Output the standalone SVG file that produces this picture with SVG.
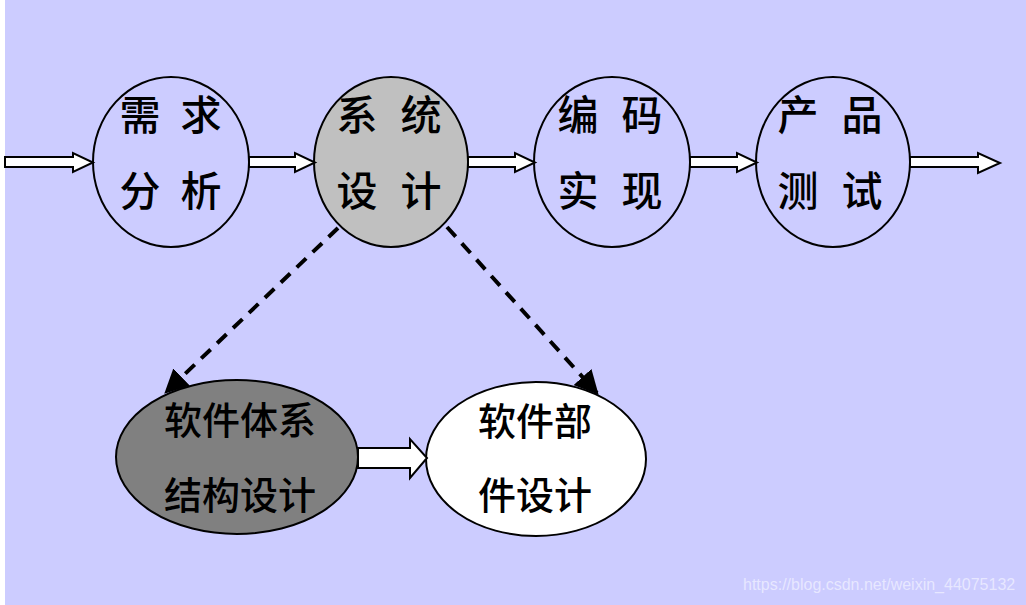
<svg xmlns="http://www.w3.org/2000/svg" width="1026" height="605" viewBox="0 0 1026 605">
  <defs>
    <style>
      .node { stroke: #000; stroke-width: 2; }
      .lbl { font-family: "Noto Sans CJK SC", "Noto Sans", sans-serif; font-size: 38px; font-weight: 500; fill: #000; text-anchor: middle; }
      .big { font-size: 41px; }
      .blk { fill: #fff; stroke: #000; stroke-width: 2; stroke-linejoin: miter; }
      .dash { fill: none; stroke: #000; stroke-width: 4; stroke-dasharray: 13 9; }
      .wm { font-family: "Liberation Sans", Arial, sans-serif; font-size: 16px; fill: #fff; fill-opacity: 0.55; }
    </style>
    <marker id="tri" viewBox="0 0 10 10" refX="9" refY="5" markerWidth="6" markerHeight="6" markerUnits="strokeWidth" orient="auto">
      <path d="M0,0 L10,5 L0,10 Z" fill="#000"/>
    </marker>
  </defs>
  <rect x="0" y="0" width="1026" height="605" fill="#fff"/>
  <rect x="5" y="0" width="1021" height="605" fill="#CCCCFF"/>

  <g id="n1">
    <ellipse class="node" cx="171" cy="162" rx="78" ry="85" fill="#CCCCFF"/>
    <text class="lbl big" x="140 201" y="130">需求</text>
    <text class="lbl big" x="140 201" y="206">分析</text>
  </g>
  <g id="n2">
    <ellipse class="node" cx="391" cy="162" rx="77" ry="85" fill="#C0C0C0"/>
    <text class="lbl big" x="357 421" y="130">系统</text>
    <text class="lbl big" x="357 421" y="206">设计</text>
  </g>
  <g id="n3">
    <ellipse class="node" cx="612" cy="162" rx="78" ry="85" fill="#CCCCFF"/>
    <text class="lbl big" x="578 642" y="130">编码</text>
    <text class="lbl big" x="578 642" y="206">实现</text>
  </g>
  <g id="n4">
    <ellipse class="node" cx="833" cy="162" rx="77" ry="85" fill="#CCCCFF"/>
    <text class="lbl big" x="798 862" y="130">产品</text>
    <text class="lbl big" x="798 862" y="206">测试</text>
  </g>
  <g id="n5">
    <ellipse class="node" cx="237" cy="457" rx="121" ry="77" fill="#808080"/>
    <text class="lbl" x="240" y="434">软件体系</text>
    <text class="lbl" x="240" y="509">结构设计</text>
  </g>
  <g id="n6">
    <ellipse class="node" cx="536" cy="459" rx="110" ry="77" fill="#FFFFFF"/>
    <text class="lbl" x="535" y="435">软件部</text>
    <text class="lbl" x="535" y="509">件设计</text>
  </g>

  <g id="connectors">
    <path class="blk" d="M5,157 L73,157 L73,153 L93,162.5 L73,172 L73,167 L5,167 Z"/>
    <path class="blk" d="M249,157 L295,157 L295,153 L315,162.5 L295,172 L295,167 L249,167 Z"/>
    <path class="blk" d="M468,157 L515,157 L515,153 L535,162.5 L515,172 L515,167 L468,167 Z"/>
    <path class="blk" d="M690,157 L737,157 L737,153 L757,162.5 L737,172 L737,167 L690,167 Z"/>
    <path class="blk" d="M910,157 L978,157 L978,153 L1000,163 L978,173 L978,167 L910,167 Z"/>
    <path class="blk" d="M358,448 L410,448 L410,439 L427,458 L410,478 L410,468 L358,468 Z"/>
    <line class="dash" x1="338" y1="228" x2="166" y2="392" marker-end="url(#tri)"/>
    <line class="dash" x1="447" y1="227" x2="597" y2="393" marker-end="url(#tri)"/>
  </g>

  <text class="wm" x="743" y="590">https://blog.csdn.net/weixin_44075132</text>
</svg>
